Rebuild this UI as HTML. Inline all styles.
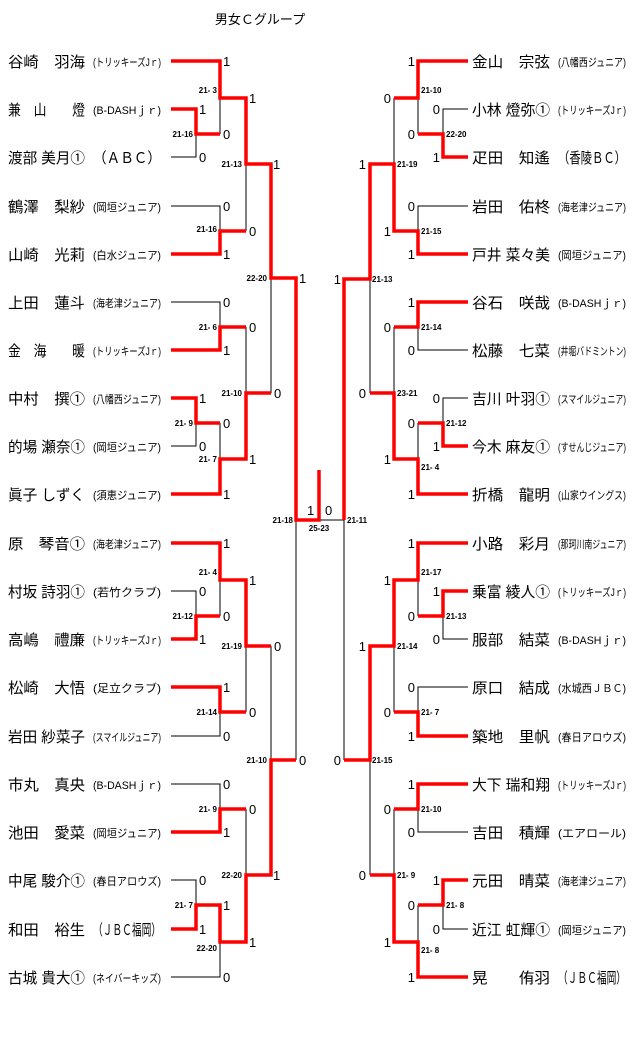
<!DOCTYPE html>
<html><head><meta charset="utf-8"><style>
html,body{margin:0;padding:0;background:#fff;}
svg{display:block;}
text{font-family:"Liberation Sans","Noto Sans CJK JP",sans-serif;fill:#000;}
.nm{font-size:15px;}
.tm{font-size:11px;fill:#333;}
.n{font-size:13px;}
.s{font-size:8px;font-weight:bold;}
.r{fill:none;stroke:#f00;stroke-width:3.5;stroke-linejoin:miter;}
.b{fill:none;stroke:#000;stroke-width:1;shape-rendering:crispEdges;}
</style></head><body>
<svg width="640" height="1053" viewBox="0 0 640 1053" xmlns="http://www.w3.org/2000/svg">
<text x="260" y="24" text-anchor="middle" style="font-size:13px">男女Ｃグループ</text>

<g class="b">
<polyline points="171,157 196,157 196,134"/>
<polyline points="171,206 220,206 220,231"/>
<polyline points="171,302 220,302 220,327"/>
<polyline points="171,446 196,446 196,423"/>
<polyline points="171,591 196,591 196,616"/>
<polyline points="171,736 220,736 220,712"/>
<polyline points="171,784 220,784 220,809"/>
<polyline points="171,880 196,880 196,905"/>
<polyline points="171,977 220,977 220,942"/>
<line x1="220" y1="98" x2="220" y2="134"/>
<line x1="246" y1="164" x2="246" y2="231"/>
<line x1="271" y1="278" x2="271" y2="393"/>
<line x1="246" y1="327" x2="246" y2="393"/>
<line x1="220" y1="423" x2="220" y2="459"/>
<line x1="220" y1="580" x2="220" y2="616"/>
<line x1="246" y1="646" x2="246" y2="712"/>
<line x1="271" y1="646" x2="271" y2="760"/>
<line x1="296" y1="520" x2="296" y2="760"/>
<line x1="246" y1="809" x2="246" y2="875"/>
<line x1="319" y1="520" x2="344" y2="520"/>
<line x1="344" y1="520" x2="344" y2="760"/>

<polyline points="468,109 443,109 443,134"/>
<line x1="418" y1="98" x2="418" y2="134"/>
<line x1="394" y1="98" x2="394" y2="164"/>
<polyline points="468,206 418,206 418,231"/>
<line x1="370" y1="279" x2="370" y2="393"/>
<polyline points="468,350 418,350 418,327"/>
<line x1="394" y1="327" x2="394" y2="393"/>
<polyline points="468,398 443,398 443,423"/>
<line x1="418" y1="423" x2="418" y2="459"/>
<line x1="418" y1="580" x2="418" y2="616"/>
<polyline points="468,639 443,639 443,616"/>
<line x1="394" y1="646" x2="394" y2="712"/>
<polyline points="468,687 418,687 418,712"/>
<polyline points="468,832 418,832 418,809"/>
<line x1="394" y1="809" x2="394" y2="875"/>
<line x1="370" y1="760" x2="370" y2="875"/>
<polyline points="468,929 443,929 443,905"/>
<line x1="418" y1="905" x2="418" y2="942"/>
</g>

<g class="r">
<polyline points="171,61 220,61 220,98 246,98 246,164 271,164 271,278 296,278 296,520 319,520 319,470"/>
<polyline points="171,109 196,109 196,134 220,134"/>
<polyline points="171,254 220,254 220,231 246,231"/>
<polyline points="171,350 220,350 220,327 246,327"/>
<polyline points="171,398 196,398 196,423 220,423"/>
<polyline points="171,494 220,494 220,459 246,459 246,393 271,393"/>
<polyline points="171,543 220,543 220,580 246,580 246,646 271,646"/>
<polyline points="171,639 196,639 196,616 220,616"/>
<polyline points="171,687 220,687 220,712 246,712"/>
<polyline points="171,832 220,832 220,809 246,809"/>
<polyline points="171,929 196,929 196,905 220,905 220,942 246,942 246,875 271,875 271,760 296,760"/>

<polyline points="468,61 418,61 418,98 394,98"/>
<polyline points="468,157 443,157 443,134 418,134"/>
<polyline points="468,254 418,254 418,231 394,231 394,164 370,164 370,279 344,279 344,520"/>
<polyline points="468,302 418,302 418,327 394,327"/>
<polyline points="468,446 443,446 443,423 418,423"/>
<polyline points="468,494 418,494 418,459 394,459 394,393 370,393"/>
<polyline points="468,543 418,543 418,580 394,580 394,646 370,646 370,760 344,760"/>
<polyline points="468,591 443,591 443,616 418,616"/>
<polyline points="468,736 418,736 418,712 394,712"/>
<polyline points="468,784 418,784 418,809 394,809"/>
<polyline points="468,880 443,880 443,905 418,905"/>
<polyline points="468,977 418,977 418,942 394,942 394,875 370,875"/>
</g>

<g class="nm">
<text x="8" y="67" textLength="77" lengthAdjust="spacingAndGlyphs">谷崎　羽海</text>
<text x="8" y="115" textLength="77" lengthAdjust="spacingAndGlyphs">兼　山　　燈</text>
<text x="8" y="163" textLength="77" lengthAdjust="spacingAndGlyphs">渡部 美月①</text>
<text x="8" y="212" textLength="77" lengthAdjust="spacingAndGlyphs">鶴澤　梨紗</text>
<text x="8" y="260" textLength="77" lengthAdjust="spacingAndGlyphs">山崎　光莉</text>
<text x="8" y="308" textLength="77" lengthAdjust="spacingAndGlyphs">上田　蓮斗</text>
<text x="8" y="356" textLength="77" lengthAdjust="spacingAndGlyphs">金　海　　暖</text>
<text x="8" y="404" textLength="77" lengthAdjust="spacingAndGlyphs">中村　撰①</text>
<text x="8" y="452" textLength="77" lengthAdjust="spacingAndGlyphs">的場 瀬奈①</text>
<text x="8" y="500" textLength="77" lengthAdjust="spacingAndGlyphs">眞子 しずく</text>
<text x="8" y="549" textLength="77" lengthAdjust="spacingAndGlyphs">原　琴音①</text>
<text x="8" y="597" textLength="77" lengthAdjust="spacingAndGlyphs">村坂 詩羽①</text>
<text x="8" y="645" textLength="77" lengthAdjust="spacingAndGlyphs">高嶋　禮廉</text>
<text x="8" y="693" textLength="77" lengthAdjust="spacingAndGlyphs">松崎　大悟</text>
<text x="8" y="742" textLength="77" lengthAdjust="spacingAndGlyphs">岩田 紗菜子</text>
<text x="8" y="790" textLength="77" lengthAdjust="spacingAndGlyphs">市丸　真央</text>
<text x="8" y="838" textLength="77" lengthAdjust="spacingAndGlyphs">池田　愛菜</text>
<text x="8" y="886" textLength="77" lengthAdjust="spacingAndGlyphs">中尾 駿介①</text>
<text x="8" y="935" textLength="77" lengthAdjust="spacingAndGlyphs">和田　裕生</text>
<text x="8" y="983" textLength="77" lengthAdjust="spacingAndGlyphs">古城 貴大①</text>
</g>
<g class="tm">
<text x="93" y="66" textLength="68" lengthAdjust="spacingAndGlyphs">(トリッキーズJｒ)</text>
<text x="93" y="114" textLength="68" lengthAdjust="spacingAndGlyphs">(B-DASHｊｒ)</text>
<text x="93" y="163" textLength="68" lengthAdjust="spacingAndGlyphs" style="font-size:15px;fill:#000">（ＡＢＣ）</text>
<text x="93" y="211" textLength="68" lengthAdjust="spacingAndGlyphs">(岡垣ジュニア)</text>
<text x="93" y="259" textLength="68" lengthAdjust="spacingAndGlyphs">(白水ジュニア)</text>
<text x="93" y="307" textLength="68" lengthAdjust="spacingAndGlyphs">(海老津ジュニア)</text>
<text x="93" y="355" textLength="68" lengthAdjust="spacingAndGlyphs">(トリッキーズJｒ)</text>
<text x="93" y="403" textLength="68" lengthAdjust="spacingAndGlyphs">(八幡西ジュニア)</text>
<text x="93" y="451" textLength="68" lengthAdjust="spacingAndGlyphs">(岡垣ジュニア)</text>
<text x="93" y="499" textLength="68" lengthAdjust="spacingAndGlyphs">(須恵ジュニア)</text>
<text x="93" y="548" textLength="68" lengthAdjust="spacingAndGlyphs">(海老津ジュニア)</text>
<text x="93" y="596" textLength="68" lengthAdjust="spacingAndGlyphs">(若竹クラブ)</text>
<text x="93" y="644" textLength="68" lengthAdjust="spacingAndGlyphs">(トリッキーズJｒ)</text>
<text x="93" y="692" textLength="68" lengthAdjust="spacingAndGlyphs">(足立クラブ)</text>
<text x="93" y="741" textLength="68" lengthAdjust="spacingAndGlyphs">(スマイルジュニア)</text>
<text x="93" y="789" textLength="68" lengthAdjust="spacingAndGlyphs">(B-DASHｊｒ)</text>
<text x="93" y="837" textLength="68" lengthAdjust="spacingAndGlyphs">(岡垣ジュニア)</text>
<text x="93" y="885" textLength="68" lengthAdjust="spacingAndGlyphs">(春日アロウズ)</text>
<text x="93" y="935" textLength="68" lengthAdjust="spacingAndGlyphs" style="font-size:15px;fill:#000">（ＪＢＣ福岡）</text>
<text x="93" y="982" textLength="68" lengthAdjust="spacingAndGlyphs">(ネイバーキッズ)</text>
</g>

<g class="nm">
<text x="472" y="67" textLength="78" lengthAdjust="spacingAndGlyphs">金山　宗弦</text>
<text x="472" y="115" textLength="78" lengthAdjust="spacingAndGlyphs">小林 燈弥①</text>
<text x="472" y="163" textLength="78" lengthAdjust="spacingAndGlyphs">疋田　知遙</text>
<text x="472" y="212" textLength="78" lengthAdjust="spacingAndGlyphs">岩田　佑柊</text>
<text x="472" y="260" textLength="78" lengthAdjust="spacingAndGlyphs">戸井 菜々美</text>
<text x="472" y="308" textLength="78" lengthAdjust="spacingAndGlyphs">谷石　咲哉</text>
<text x="472" y="356" textLength="78" lengthAdjust="spacingAndGlyphs">松藤　七菜</text>
<text x="472" y="404" textLength="78" lengthAdjust="spacingAndGlyphs">吉川 叶羽①</text>
<text x="472" y="452" textLength="78" lengthAdjust="spacingAndGlyphs">今木 麻友①</text>
<text x="472" y="500" textLength="78" lengthAdjust="spacingAndGlyphs">折橋　龍明</text>
<text x="472" y="549" textLength="78" lengthAdjust="spacingAndGlyphs">小路　彩月</text>
<text x="472" y="597" textLength="78" lengthAdjust="spacingAndGlyphs">乗富 綾人①</text>
<text x="472" y="645" textLength="78" lengthAdjust="spacingAndGlyphs">服部　結菜</text>
<text x="472" y="693" textLength="78" lengthAdjust="spacingAndGlyphs">原口　結成</text>
<text x="472" y="742" textLength="78" lengthAdjust="spacingAndGlyphs">築地　里帆</text>
<text x="472" y="790" textLength="78" lengthAdjust="spacingAndGlyphs">大下 瑞和翔</text>
<text x="472" y="838" textLength="78" lengthAdjust="spacingAndGlyphs">吉田　積輝</text>
<text x="472" y="886" textLength="78" lengthAdjust="spacingAndGlyphs">元田　晴菜</text>
<text x="472" y="935" textLength="78" lengthAdjust="spacingAndGlyphs">近江 虹輝①</text>
<text x="472" y="983" textLength="78" lengthAdjust="spacingAndGlyphs">晃　　侑羽</text>
</g>
<g class="tm">
<text x="558" y="66" textLength="68" lengthAdjust="spacingAndGlyphs">(八幡西ジュニア)</text>
<text x="558" y="114" textLength="68" lengthAdjust="spacingAndGlyphs">(トリッキーズJｒ)</text>
<text x="558" y="163" textLength="68" lengthAdjust="spacingAndGlyphs" style="font-size:15px;fill:#000">（香陵ＢＣ）</text>
<text x="558" y="211" textLength="68" lengthAdjust="spacingAndGlyphs">(海老津ジュニア)</text>
<text x="558" y="259" textLength="68" lengthAdjust="spacingAndGlyphs">(岡垣ジュニア)</text>
<text x="558" y="307" textLength="68" lengthAdjust="spacingAndGlyphs">(B-DASHｊｒ)</text>
<text x="558" y="355" textLength="68" lengthAdjust="spacingAndGlyphs">(井堀バドミントン)</text>
<text x="558" y="403" textLength="68" lengthAdjust="spacingAndGlyphs">(スマイルジュニア)</text>
<text x="558" y="451" textLength="68" lengthAdjust="spacingAndGlyphs">(すせんじジュニア)</text>
<text x="558" y="499" textLength="68" lengthAdjust="spacingAndGlyphs">(山家ウイングス)</text>
<text x="558" y="548" textLength="68" lengthAdjust="spacingAndGlyphs">(那珂川南ジュニア)</text>
<text x="558" y="596" textLength="68" lengthAdjust="spacingAndGlyphs">(トリッキーズJｒ)</text>
<text x="558" y="644" textLength="68" lengthAdjust="spacingAndGlyphs">(B-DASHｊｒ)</text>
<text x="558" y="692" textLength="68" lengthAdjust="spacingAndGlyphs">(水城西ＪＢＣ)</text>
<text x="558" y="741" textLength="68" lengthAdjust="spacingAndGlyphs">(春日アロウズ)</text>
<text x="558" y="789" textLength="68" lengthAdjust="spacingAndGlyphs">(トリッキーズJｒ)</text>
<text x="558" y="837" textLength="68" lengthAdjust="spacingAndGlyphs">(エアロール)</text>
<text x="558" y="885" textLength="68" lengthAdjust="spacingAndGlyphs">(海老津ジュニア)</text>
<text x="558" y="934" textLength="68" lengthAdjust="spacingAndGlyphs">(岡垣ジュニア)</text>
<text x="558" y="983" textLength="68" lengthAdjust="spacingAndGlyphs" style="font-size:15px;fill:#000">（ＪＢＣ福岡）</text>
</g>

<g class="n">
<text x="223" y="66">1</text><text x="199" y="114">1</text><text x="199" y="162">0</text><text x="249" y="103">1</text><text x="223" y="139">0</text>
<text x="223" y="211">0</text><text x="223" y="259">1</text><text x="249" y="236">0</text><text x="273" y="169">1</text><text x="299" y="283">1</text>
<text x="223" y="307">0</text><text x="223" y="355">1</text><text x="249" y="332">0</text><text x="199" y="403">1</text><text x="199" y="451">0</text>
<text x="223" y="428">0</text><text x="223" y="499">1</text><text x="249" y="464">1</text><text x="274" y="398">0</text>
<text x="223" y="548">1</text><text x="199" y="596">0</text><text x="199" y="644">1</text><text x="223" y="621">0</text><text x="249" y="585">1</text><text x="274" y="651">0</text>
<text x="223" y="692">1</text><text x="223" y="741">0</text><text x="249" y="717">0</text><text x="299" y="765">0</text>
<text x="223" y="789">0</text><text x="223" y="837">1</text><text x="249" y="814">0</text><text x="273" y="880">1</text><text x="199" y="885">0</text>
<text x="199" y="934">1</text><text x="223" y="910">1</text><text x="249" y="947">1</text><text x="223" y="982">0</text>
<text x="307" y="515">1</text><text x="325" y="515">0</text>
</g>
<g class="n" text-anchor="end">
<text x="415" y="66">1</text><text x="440" y="114">0</text><text x="440" y="162">1</text><text x="391" y="103">0</text><text x="415" y="139">0</text>
<text x="415" y="211">0</text><text x="415" y="259">1</text><text x="391" y="236">1</text><text x="366" y="169">1</text><text x="341" y="284">1</text>
<text x="415" y="307">1</text><text x="415" y="355">0</text><text x="391" y="332">0</text><text x="440" y="403">0</text><text x="440" y="451">1</text>
<text x="415" y="428">0</text><text x="415" y="499">1</text><text x="391" y="464">1</text><text x="366" y="398">0</text>
<text x="415" y="548">1</text><text x="440" y="596">1</text><text x="440" y="644">0</text><text x="415" y="621">0</text><text x="391" y="585">1</text><text x="366" y="651">1</text>
<text x="415" y="692">0</text><text x="415" y="741">1</text><text x="391" y="717">0</text><text x="341" y="765">0</text>
<text x="415" y="789">1</text><text x="415" y="837">0</text><text x="391" y="814">0</text><text x="366" y="880">0</text><text x="440" y="885">1</text>
<text x="440" y="934">0</text><text x="415" y="910">0</text><text x="391" y="947">1</text><text x="415" y="982">1</text>
</g>

<g class="s" text-anchor="end">
<text x="217" y="93">21- 3</text><text x="193" y="137">21-16</text><text x="242" y="167">21-13</text><text x="217" y="232">21-16</text><text x="267" y="281">22-20</text>
<text x="217" y="330">21- 6</text><text x="193" y="426">21- 9</text><text x="242" y="396">21-10</text><text x="217" y="462">21- 7</text><text x="293" y="523">21-18</text>
<text x="217" y="575">21- 4</text><text x="193" y="619">21-12</text><text x="242" y="649">21-19</text><text x="217" y="715">21-14</text><text x="267" y="763">21-10</text>
<text x="217" y="812">21- 9</text><text x="242" y="878">22-20</text><text x="193" y="908">21- 7</text><text x="217" y="951">22-20</text>
</g>
<text class="s" x="319" y="531" text-anchor="middle">25-23</text>
<g class="s">
<text x="421" y="93">21-10</text><text x="446" y="137">22-20</text><text x="397" y="167">21-19</text><text x="421" y="234">21-15</text><text x="372" y="282">21-13</text>
<text x="347" y="523">21-11</text><text x="421" y="330">21-14</text><text x="397" y="396">23-21</text><text x="446" y="426">21-12</text><text x="421" y="470">21- 4</text>
<text x="421" y="575">21-17</text><text x="446" y="619">21-13</text><text x="397" y="649">21-14</text><text x="421" y="715">21- 7</text><text x="372" y="763">21-15</text>
<text x="421" y="812">21-10</text><text x="397" y="878">21- 9</text><text x="446" y="908">21- 8</text><text x="421" y="953">21- 8</text>
</g>
</svg>
</body></html>
